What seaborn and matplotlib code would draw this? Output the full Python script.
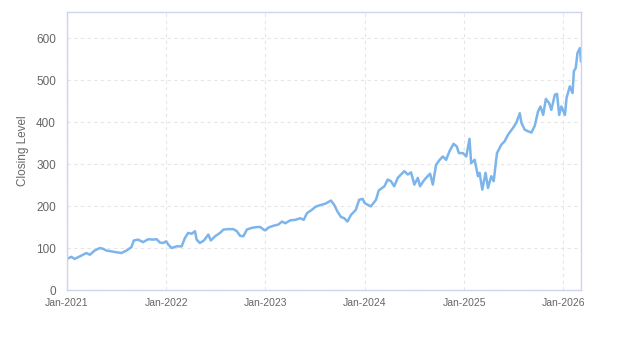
import pandas as pd
import matplotlib
matplotlib.use("Agg")
import matplotlib.pyplot as plt
import matplotlib.dates as mdates
import seaborn as sns

# --- data (approximate closing levels) ---
dates = [
    "2021-01-01", "2021-01-17", "2021-01-29", "2021-02-17", "2021-03-13", "2021-03-26",
    "2021-04-13", "2021-05-02", "2021-05-14", "2021-05-26", "2021-06-14", "2021-07-02",
    "2021-07-20", "2021-08-08", "2021-08-26", "2021-09-04", "2021-09-20", "2021-10-08",
    "2021-10-27", "2021-11-14", "2021-11-27", "2021-12-09", "2021-12-21", "2022-01-01",
    "2022-01-09", "2022-01-21", "2022-02-08", "2022-02-27", "2022-03-11", "2022-03-23",
    "2022-04-05", "2022-04-17", "2022-04-23", "2022-05-05", "2022-05-20", "2022-06-05",
    "2022-06-14", "2022-06-30", "2022-07-18", "2022-07-31", "2022-08-18", "2022-09-05",
    "2022-09-18", "2022-09-30", "2022-10-12", "2022-10-25", "2022-11-12", "2022-12-01",
    "2022-12-13", "2022-12-25", "2023-01-01", "2023-01-13", "2023-01-31", "2023-02-18",
    "2023-03-03", "2023-03-15", "2023-04-03", "2023-04-21", "2023-05-09", "2023-05-22",
    "2023-06-03", "2023-06-21", "2023-07-04", "2023-07-16", "2023-08-11", "2023-08-30",
    "2023-09-11", "2023-09-23", "2023-10-06", "2023-10-18", "2023-10-30", "2023-11-12",
    "2023-11-30", "2023-12-12", "2023-12-25", "2024-01-01", "2024-01-24", "2024-02-12",
    "2024-02-22", "2024-03-14", "2024-03-26", "2024-04-07", "2024-04-19", "2024-05-02",
    "2024-05-26", "2024-06-08", "2024-06-20", "2024-07-02", "2024-07-15", "2024-07-23",
    "2024-08-04", "2024-08-14", "2024-08-29", "2024-09-08", "2024-09-20", "2024-10-02",
    "2024-10-15", "2024-10-27", "2024-11-08", "2024-11-23", "2024-12-05", "2024-12-13",
    "2024-12-28", "2025-01-09", "2025-01-21", "2025-01-27", "2025-02-09", "2025-02-21",
    "2025-02-27", "2025-03-09", "2025-03-21", "2025-03-30", "2025-04-11", "2025-04-20",
    "2025-05-02", "2025-05-18", "2025-05-30", "2025-06-12", "2025-06-30", "2025-07-12",
    "2025-07-25", "2025-07-31", "2025-08-12", "2025-08-24", "2025-09-06", "2025-09-18",
    "2025-09-30", "2025-10-09", "2025-10-19", "2025-10-29", "2025-11-10", "2025-11-18",
    "2025-12-01", "2025-12-09", "2025-12-17", "2025-12-25", "2026-01-07", "2026-01-13",
    "2026-01-25", "2026-02-04", "2026-02-09", "2026-02-16", "2026-02-22", "2026-03-03",
    "2026-03-07",
]
closing = [
    74, 79, 74, 80, 88, 84,
    94, 100, 98, 94, 92, 90,
    88, 94, 102, 118, 120, 114,
    121, 120, 121, 113, 112, 116,
    108, 100, 104, 104, 124, 136,
    134, 140, 120, 112, 118, 132,
    118, 128, 136, 144, 145, 145,
    140, 129, 128, 144, 148, 150,
    150, 144, 142, 149, 153, 156,
    163, 159, 166, 167, 171, 167,
    183, 191, 198, 201, 206, 213,
    203, 187, 174, 171, 163, 179,
    191, 215, 217, 207, 199, 215,
    237, 247, 263, 259, 247, 267,
    283, 275, 280, 251, 267, 247,
    259, 267, 277, 251, 298, 309,
    318, 310, 330, 348, 342, 326,
    326, 318, 360, 302, 310, 271,
    279, 239, 279, 243, 271, 259,
    326, 346, 354, 370, 386, 398,
    421, 398, 382, 378, 375, 391,
    425, 437, 417, 455, 445, 429,
    465, 467, 417, 437, 417, 457,
    485, 469, 521, 529, 564, 576,
    544,
]
year_ticks = ["2021-01-01", "2022-01-01", "2023-01-01", "2024-01-01", "2025-01-01", "2026-01-01"]

df = pd.DataFrame({"date": pd.to_datetime(dates), "close": closing})

# --- style ---
sns.set_style("white")
plt.rcParams["font.family"] = ["Liberation Sans", "DejaVu Sans"]

fig = plt.figure(figsize=(6.23, 3.5), dpi=100)
ax = fig.add_axes([0.1075, 0.1714, 0.825, 0.7943])

sns.lineplot(data=df, x="date", y="close", ax=ax, color="#7cb5ec", linewidth=1.8)

ax.set_xlim(pd.Timestamp("2021-01-01"), pd.Timestamp("2026-03-07"))
ax.set_ylim(0, 662)
ax.set_yticks(range(0, 700, 100))
ax.set_xticks(pd.to_datetime(year_ticks))
ax.xaxis.set_major_formatter(mdates.DateFormatter("%b-%Y"))

ax.grid(True, color="#e6e6e6", linestyle=(0, (3, 3)), linewidth=0.8)
for s in ax.spines.values():
    s.set_color("#ccd6eb")
    s.set_linewidth(1)

ax.tick_params(axis="y", length=0, labelsize=8.5, labelcolor="#666666", pad=8)
ax.tick_params(axis="x", length=4, color="#ccd6eb", labelsize=7.5, labelcolor="#666666", pad=2)
ax.set_xlabel("")
ax.set_ylabel("Closing Level", fontsize=8.5, color="#666666", labelpad=5)

fig.savefig("out.png", dpi=100)
